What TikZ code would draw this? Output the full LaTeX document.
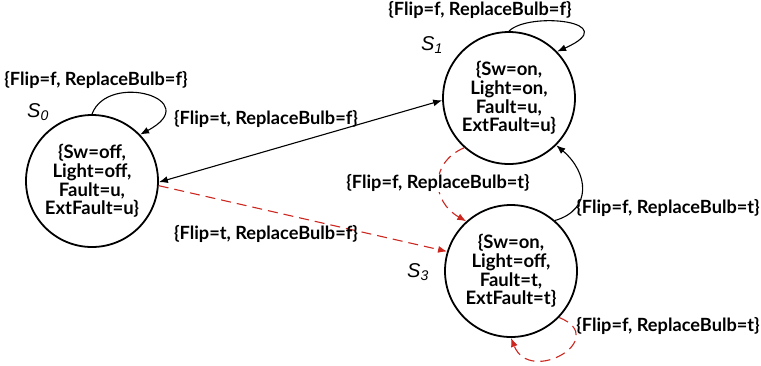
\documentclass[tikz,border=0pt]{standalone}
\usepackage{fontspec}
\usetikzlibrary{arrows.meta}
\newfontfamily\labelfont{Lato}
\newfontfamily\statefont{Liberation Sans}
\definecolor{faultred}{RGB}{204,40,32}
\begin{document}
\begin{tikzpicture}[x=1pt,y=-1pt,
  every node/.style={inner sep=0pt},
  statebox/.style={circle, draw, line width=1.8pt, minimum size=132pt, align=center,
    font=\labelfont\bfseries\fontsize{18.5}{18.8}\selectfont},
  trlabel/.style={font=\labelfont\bfseries\fontsize{18.2}{19}\selectfont},
  sname/.style={font=\statefont\itshape\fontsize{20}{22}\selectfont},
  trans/.style={line width=1.1pt, -{Latex[length=9pt,width=7pt]}},
  faulty/.style={trans, draw=faultred, dash pattern=on 10pt off 6pt}]
\useasboundingbox (0,0) rectangle (761,365);

% states
\node[statebox] (s0) at (92,181) {\{Sw=off,\\Light=off,\\Fault=u,\\ExtFault=u\}};
\node[statebox] (s1) at (509,98) {\{Sw=on,\\Light=on,\\Fault=u,\\ExtFault=u\}};
\node[statebox] (s3) at (511,271) {\{Sw=on,\\Light=off,\\Fault=t,\\ExtFault=t\}};

% state names
\node[sname] (n0) at (38,112) {S\textsubscript{0}};
\node[sname] (n1) at (432,45) {S\textsubscript{1}};
\node[sname] (n3) at (418,272) {S\textsubscript{3}};

% self loops
\draw[trans] (s0.90) .. controls +(16,-43) and +(66,-35) .. (s0.44);
\draw[trans] (s1.90) .. controls +(20,-20) and +(68,-30) .. (s1.44);
\draw[faulty] (s3.-44) .. controls +(52,21) and +(19,48) .. (s3.-90);

% transitions between states
\draw[line width=1.1pt, {Latex[length=9pt,width=7pt]}-{Latex[length=9pt,width=7pt]}] (s0.-1) -- (s1.182);
\draw[faulty] (s0.-4) -- (s3.163);
\draw[faulty] (s1.228) .. controls +(-35,15) and +(-35,-20) .. (s3.132);
\draw[trans] (s3.49) .. controls +(38,-11) and +(32,27) .. (s1.-45);

% transition labels
\node[trlabel] (l0) at (96,80) {\{Flip=f, ReplaceBulb=f\}};
\node[trlabel] (l1) at (266,119) {\{Flip=t, ReplaceBulb=f\}};
\node[trlabel] (l2) at (266,234) {\{Flip=t, ReplaceBulb=f\}};
\node[trlabel, fill=white] (l3) at (438,183) {\{Flip=f, ReplaceBulb=t\}};
\node[trlabel] (l4) at (480,10) {\{Flip=f, ReplaceBulb=f\}};
\node[trlabel] (l5) at (668,208) {\{Flip=f, ReplaceBulb=t\}};
\node[trlabel] (l6) at (668,326) {\{Flip=f, ReplaceBulb=t\}};
\end{tikzpicture}
\end{document}
